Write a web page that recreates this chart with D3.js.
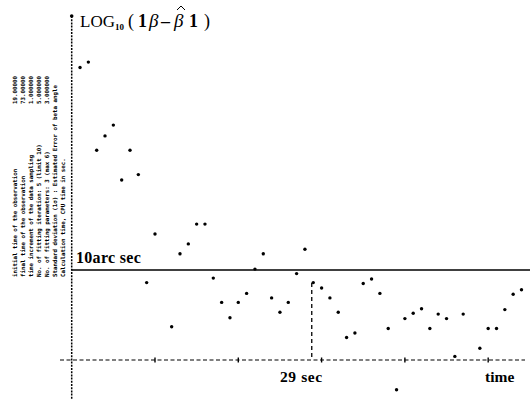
<!DOCTYPE html>
<html><head><meta charset="utf-8">
<script src="https://cdn.jsdelivr.net/npm/d3@7"></script>
<style>body{margin:0;background:#fff;}svg{display:block;}</style>
</head><body>
<svg id="c" width="530" height="401"></svg>
<script>
// time index of each sample (seconds)
const times = [1,2,3,4,5,6,7,8,9,10,12,13,14,15,16,17,18,19,20,21,22,23,24,25,26,27,28,29,30,31,32,33,34,35,36,37,38,39,40,41,42,43,44,45,46,47,49,50,51,52,53,54];
// LOG10 of the error (arc sec)
const logErr = [3.25,3.31,2.33,2.49,2.61,2.00,2.33,2.06,0.86,1.40,0.37,1.18,1.29,1.51,1.51,0.91,0.64,0.47,0.64,0.74,1.01,1.18,0.69,0.53,0.64,0.96,1.23,0.86,0.80,0.69,0.53,0.25,0.30,0.85,0.90,0.74,0.35,-0.33,0.46,0.52,0.57,0.35,0.51,0.46,0.04,0.51,0.13,0.35,0.35,0.56,0.73,0.78];
const xTicks = [10,20,30,40,50];
const thresholdLog = 1;      // 10 arc sec
const convergeTime = 29;     // sec
const infoLines = [
  "initial time of the observation",
  "final time of the observation",
  "time increment of the data sampling",
  "No. of fitting iteration: 5 (limit 10)",
  "No. of fitting parameters: 3 (max 6)",
  "Standard deviation (1\u03c3) : Estimated Error of beta angle",
  "Calculation time, CPU time in sec."
];
const infoValues = ["19.00000","73.00000","1.000000","5.000000","3.000000"];

const svg = d3.select("#c");
const x = d3.scaleLinear().domain([0,54]).range([71.7,521.5]);
const y = d3.scaleLinear().domain([0,1]).range([360,270]);

// y axis (dotted)
svg.append("line").attr("x1",x(0)).attr("x2",x(0)).attr("y1",16).attr("y2",400)
  .attr("stroke","#000").attr("stroke-width",1.5).attr("stroke-dasharray","2,1.2");
svg.append("circle").attr("cx",x(0)).attr("cy",16).attr("r",1.8).attr("fill","#000");

// x axis (dashed)
svg.append("line").attr("x1",60).attr("x2",525).attr("y1",y(0)).attr("y2",y(0))
  .attr("stroke","#000").attr("stroke-width",1.2).attr("stroke-dasharray","4,2.5");
svg.selectAll("line.tk").data(xTicks).enter().append("line").attr("class","tk")
  .attr("x1",d=>x(d)).attr("x2",d=>x(d)).attr("y1",y(0)-2.5).attr("y2",y(0)+2.5)
  .attr("stroke","#000").attr("stroke-width",1.4);

// threshold line
svg.append("line").attr("x1",x(0)).attr("x2",530).attr("y1",y(thresholdLog)).attr("y2",y(thresholdLog))
  .attr("stroke","#000").attr("stroke-width",1.4);
// convergence line
svg.append("line").attr("x1",x(convergeTime)-1.5).attr("x2",x(convergeTime)-1.5)
  .attr("y1",283).attr("y2",y(0))
  .attr("stroke","#000").attr("stroke-width",1.3).attr("stroke-dasharray","4,3");

// points
svg.selectAll("circle.pt").data(times).enter().append("circle").attr("class","pt")
  .attr("cx",d=>x(d)).attr("cy",(d,i)=>y(logErr[i])).attr("r",1.7).attr("fill","#000");

// labels
const serif = "'Liberation Serif','DejaVu Serif',serif";
const tg = svg.append("g").attr("font-family",serif).attr("fill","#000");
const parts = [
  {t:"LOG", x:80, dy:0, fs:17, fw:"normal"},
  {t:"10", x:115, dy:3, fs:9, fw:"bold"},
  {t:"(", x:128, dy:0, fs:18, fw:"normal"},
  {t:"1", x:138, dy:0, fs:18, fw:"bold"},
  {t:"\u03b2", x:149, dy:0, fs:19, fw:"normal", it:true},
  {t:"\u2013", x:161, dy:0, fs:18, fw:"bold"},
  {t:"\u03b2", x:174, dy:0, fs:19, fw:"normal", it:true},
  {t:"1", x:189, dy:0, fs:18, fw:"bold"},
  {t:")", x:204, dy:0, fs:18, fw:"normal"}
];
parts.forEach(p=>{
  tg.append("text").attr("x",p.x).attr("y",27+p.dy).attr("font-size",p.fs)
    .attr("font-weight",p.fw).attr("font-style",p.it?"italic":"normal").text(p.t);
});
// hat accent over the estimated beta
tg.append("path").attr("d","M177,10 L181,6 L185,10").attr("fill","none")
  .attr("stroke","#000").attr("stroke-width",1);

svg.append("text").attr("x",76).attr("y",263).attr("font-family",serif).attr("font-weight","bold")
  .attr("font-size",16).attr("letter-spacing",0.3).text("10arc sec");
svg.append("text").attr("x",280).attr("y",382).attr("font-family",serif).attr("font-weight","bold")
  .attr("font-size",15.5).attr("letter-spacing",0.6).text("29 sec");
svg.append("text").attr("x",485).attr("y",382).attr("font-family",serif).attr("font-weight","bold")
  .attr("font-size",15.5).text("time");

// tiny rotated info text
const colX = [15,23,31,39,47,55,63];
infoLines.forEach((t,i)=>{
  svg.append("text").attr("transform",`translate(${colX[i]+2},277) rotate(-90)`)
    .attr("font-family","'DejaVu Sans Mono',monospace").attr("font-weight","bold")
    .attr("font-size",5.8).attr("fill","#000").text(t);
});
infoValues.forEach((t,i)=>{
  svg.append("text").attr("transform",`translate(${colX[i]+2},104) rotate(-90)`)
    .attr("font-family","'DejaVu Sans Mono',monospace").attr("font-weight","bold")
    .attr("font-size",5.8).attr("fill","#000").text(t);
});
</script>
</body></html>
